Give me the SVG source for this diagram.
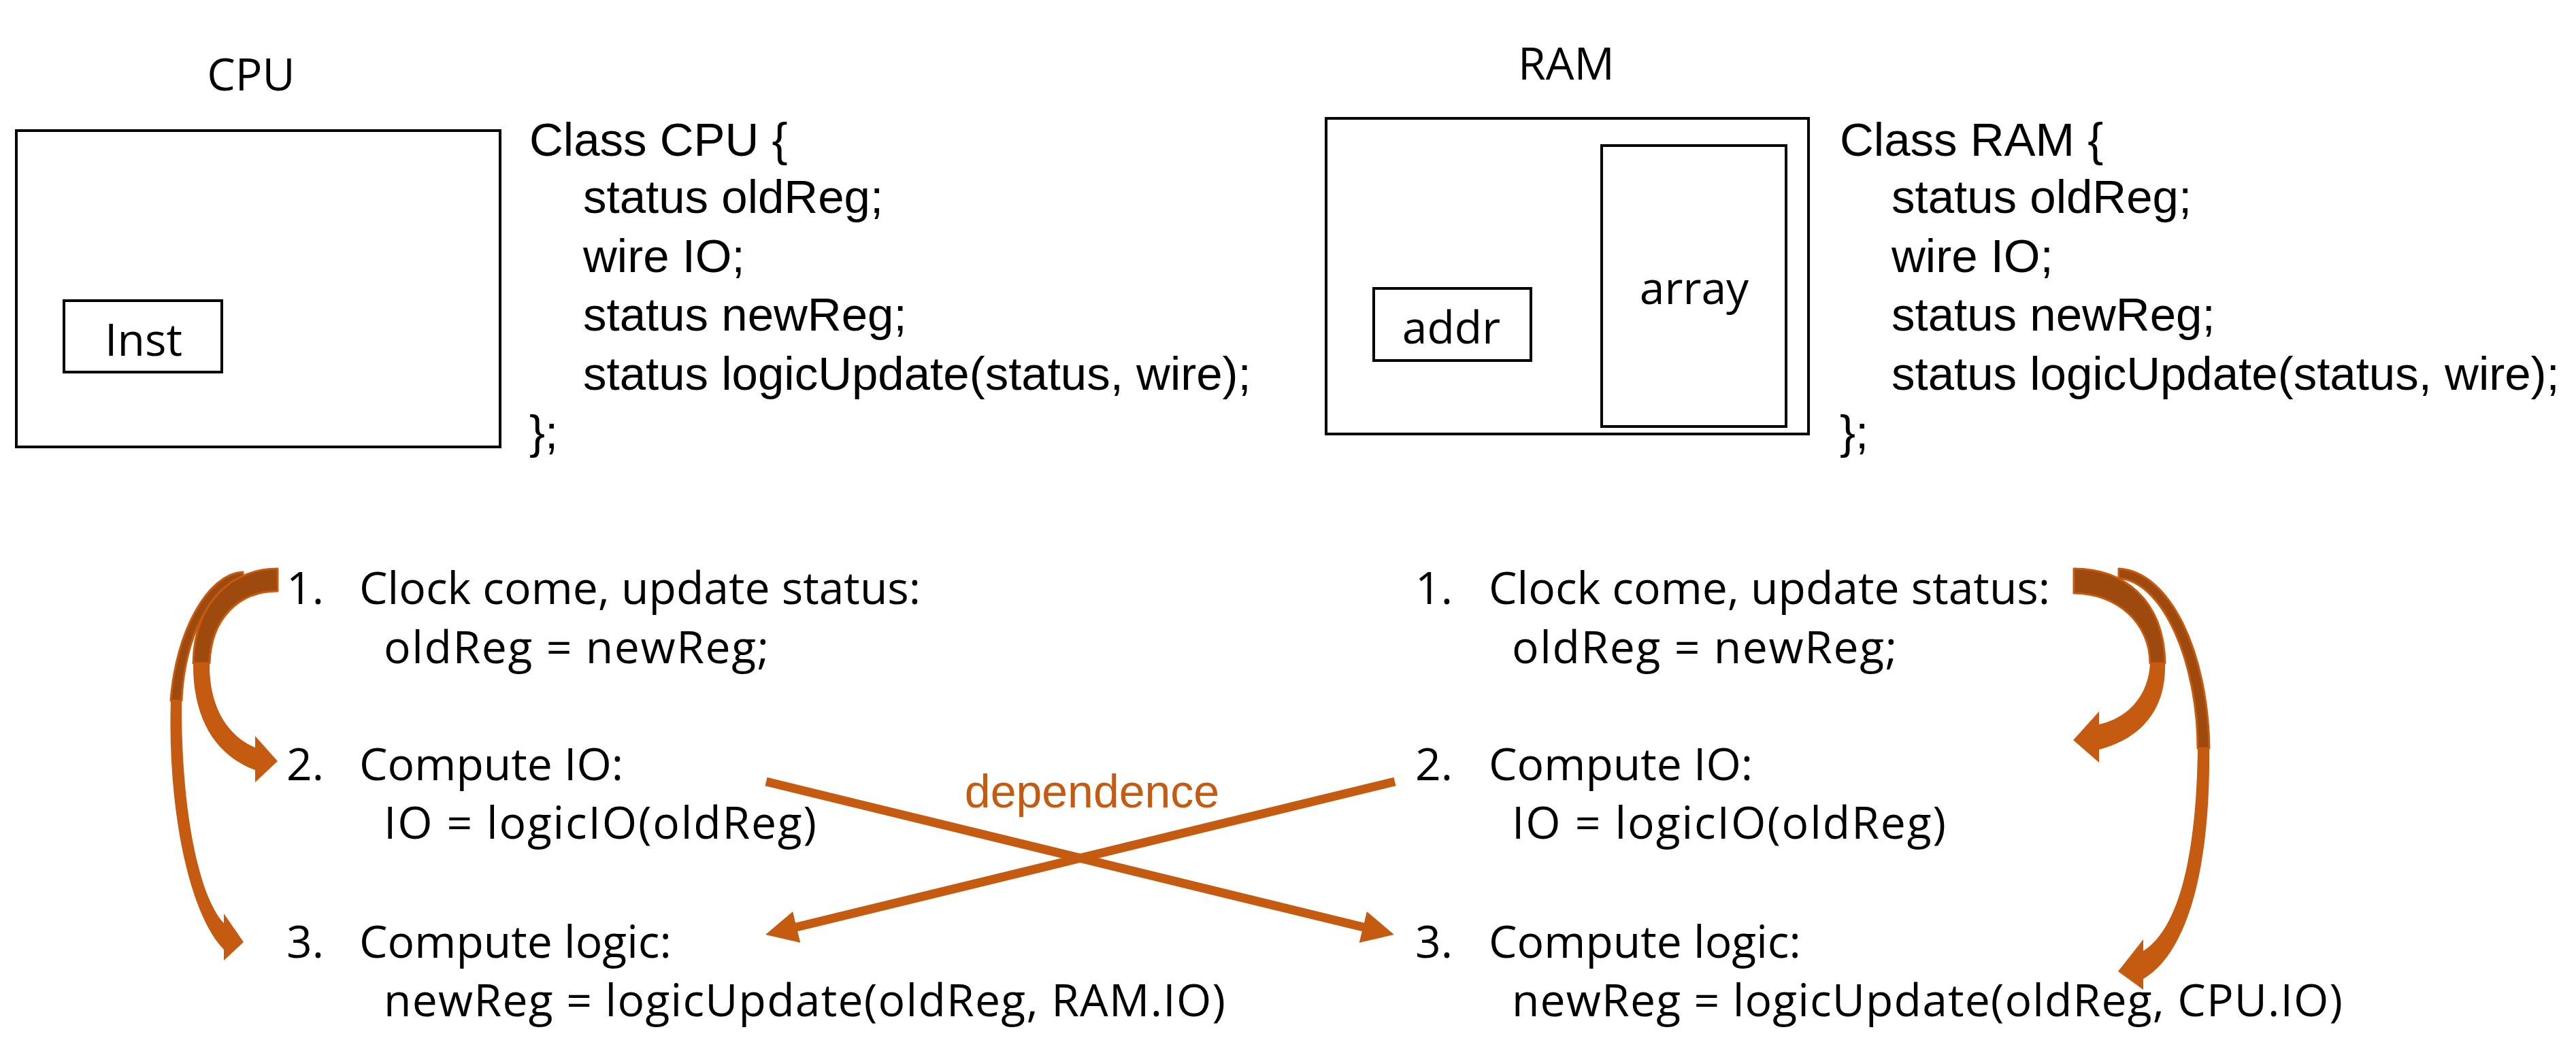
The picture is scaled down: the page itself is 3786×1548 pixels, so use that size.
<svg xmlns="http://www.w3.org/2000/svg" width="3786" height="1548" viewBox="0 0 3786 1548">
<style>
.box{fill:none;stroke:#000;stroke-width:4}
.cls{font-family:"Liberation Sans",Arial,sans-serif;font-size:69px;fill:#000}
.lst{font-family:"Open Sans","Noto Sans",sans-serif;font-size:66px;fill:#000}
.lbl{font-family:"Open Sans","Noto Sans",sans-serif;font-size:66px;fill:#000;text-anchor:middle}
.dep{font-family:"Liberation Sans",Arial,sans-serif;font-size:68px;fill:#C55A11;text-anchor:middle}
.front{fill:#C55A11}
.back{fill:#9E4A0F;stroke:#C55A11;stroke-width:3;stroke-linejoin:round}
.xline{stroke:#C55A11;stroke-width:13;fill:none;marker-end:url(#head)}
</style>
<defs>
<marker id="head" markerUnits="userSpaceOnUse" markerWidth="47" markerHeight="47" refX="9" refY="23.5" orient="auto">
<path d="M0,0 L47,23.5 L0,47 Z" fill="#C55A11"/>
</marker>
</defs>
<rect width="3786" height="1548" fill="#fff"/>

<g id="cpu">
<text class="lbl" x="369" y="133">CPU</text>
<rect class="box" x="24" y="192" width="711" height="465"/>
<g id="inst">
<rect class="box" x="94" y="442" width="232" height="105"/>
<text class="lbl" x="211" y="523">Inst</text>
</g>
</g>

<g id="cpu-class">
<text class="cls" x="778" y="229">Class CPU {</text>
<text class="cls" x="857" y="313">status oldReg;</text>
<text class="cls" x="857" y="400">wire IO;</text>
<text class="cls" x="857" y="486">status newReg;</text>
<text class="cls" x="857" y="573">status logicUpdate(status, wire);</text>
<text class="cls" x="778" y="659">};</text>
</g>

<g id="ram">
<text class="lbl" x="2302" y="117">RAM</text>
<rect class="box" x="1949" y="174" width="709" height="464"/>
<g id="addr">
<rect class="box" x="2019" y="424" width="231" height="106"/>
<text class="lbl" x="2133" y="505">addr</text>
</g>
<g id="array">
<rect class="box" x="2354" y="214" width="271" height="413"/>
<text class="lbl" x="2490" y="447">array</text>
</g>
</g>

<g id="ram-class">
<text class="cls" x="2704" y="229">Class RAM {</text>
<text class="cls" x="2780" y="313">status oldReg;</text>
<text class="cls" x="2780" y="400">wire IO;</text>
<text class="cls" x="2780" y="486">status newReg;</text>
<text class="cls" x="2780" y="573">status logicUpdate(status, wire);</text>
<text class="cls" x="2704" y="659">};</text>
</g>

<g id="cpu-steps">
<text class="lst" x="421" y="888">1.</text>
<text class="lst" x="528" y="888">Clock come, update status:</text>
<text class="lst" x="564" y="975" textLength="566" lengthAdjust="spacing">oldReg = newReg;</text>
<text class="lst" x="421" y="1147">2.</text>
<text class="lst" x="528" y="1147">Compute IO:</text>
<text class="lst" x="564" y="1233" textLength="636" lengthAdjust="spacing">IO = logicIO(oldReg)</text>
<text class="lst" x="421" y="1408">3.</text>
<text class="lst" x="528" y="1408">Compute logic:</text>
<text class="lst" x="564" y="1494" textLength="1237" lengthAdjust="spacing">newReg = logicUpdate(oldReg, RAM.IO)</text>
</g>

<g id="ram-steps">
<text class="lst" x="2080" y="888">1.</text>
<text class="lst" x="2188" y="888">Clock come, update status:</text>
<text class="lst" x="2222" y="975" textLength="566" lengthAdjust="spacing">oldReg = newReg;</text>
<text class="lst" x="2080" y="1147">2.</text>
<text class="lst" x="2188" y="1147">Compute IO:</text>
<text class="lst" x="2222" y="1233" textLength="638" lengthAdjust="spacing">IO = logicIO(oldReg)</text>
<text class="lst" x="2080" y="1408">3.</text>
<text class="lst" x="2188" y="1408">Compute logic:</text>
<text class="lst" x="2222" y="1494" textLength="1221" lengthAdjust="spacing">newReg = logicUpdate(oldReg, CPU.IO)</text>
</g>

<g id="connectors">
<!-- left long curved arrow 1 -> 3 -->
<path class="front" d="M357,841 C305,843 258,930 251,1030 C246,1180 275,1340 329,1396 L329,1412 L358,1385 L329,1343 L329,1357 C292,1318 266,1190 267,1030 C270,940 310,858 357,856 Z"/>
<path class="back" d="M357,841 C305,843 258,930 251,1030 L267,1030 C270,940 310,858 357,856 Z"/>
<!-- left short curved arrow 1 -> 2 -->
<path class="front" d="M408,836 C345,836 286,880 284,975 C283,1060 320,1112 375,1132 L375,1150 L408,1119 L375,1082 L375,1099 C335,1082 307,1040 308,975 C310,910 350,869 408,869 Z"/>
<path class="back" d="M408,836 C345,836 286,880 284,975 L308,975 C310,910 350,869 408,869 Z"/>
<!-- right long curved arrow 1 -> 3 -->
<path class="front" d="M3114,836 C3190,840 3245,960 3247,1100 C3249,1290 3210,1405 3150,1439 L3150,1455 L3113,1428 L3150,1381 L3150,1398 C3195,1370 3228,1280 3230,1100 C3230,975 3180,855 3114,850 Z"/>
<path class="back" d="M3114,836 C3190,840 3245,960 3247,1100 L3230,1100 C3230,975 3180,855 3114,850 Z"/>
<!-- right short curved arrow 1 -> 2 -->
<path class="front" d="M3048,836 C3120,836 3180,880 3182,975 C3184,1040 3150,1085 3085,1102 L3085,1121 L3047,1088 L3085,1046 L3085,1065 C3130,1055 3158,1020 3160,975 C3160,915 3110,872 3048,872 Z"/>
<path class="back" d="M3048,836 C3120,836 3180,880 3182,975 L3160,975 C3160,915 3110,872 3048,872 Z"/>
<!-- dependence cross arrows -->
<line class="xline" x1="1126" y1="1149" x2="2012" y2="1365"/>
<line class="xline" x1="2050" y1="1149" x2="1162" y2="1365"/>
<text class="dep" x="1605" y="1187">dependence</text>
</g>
</svg>
